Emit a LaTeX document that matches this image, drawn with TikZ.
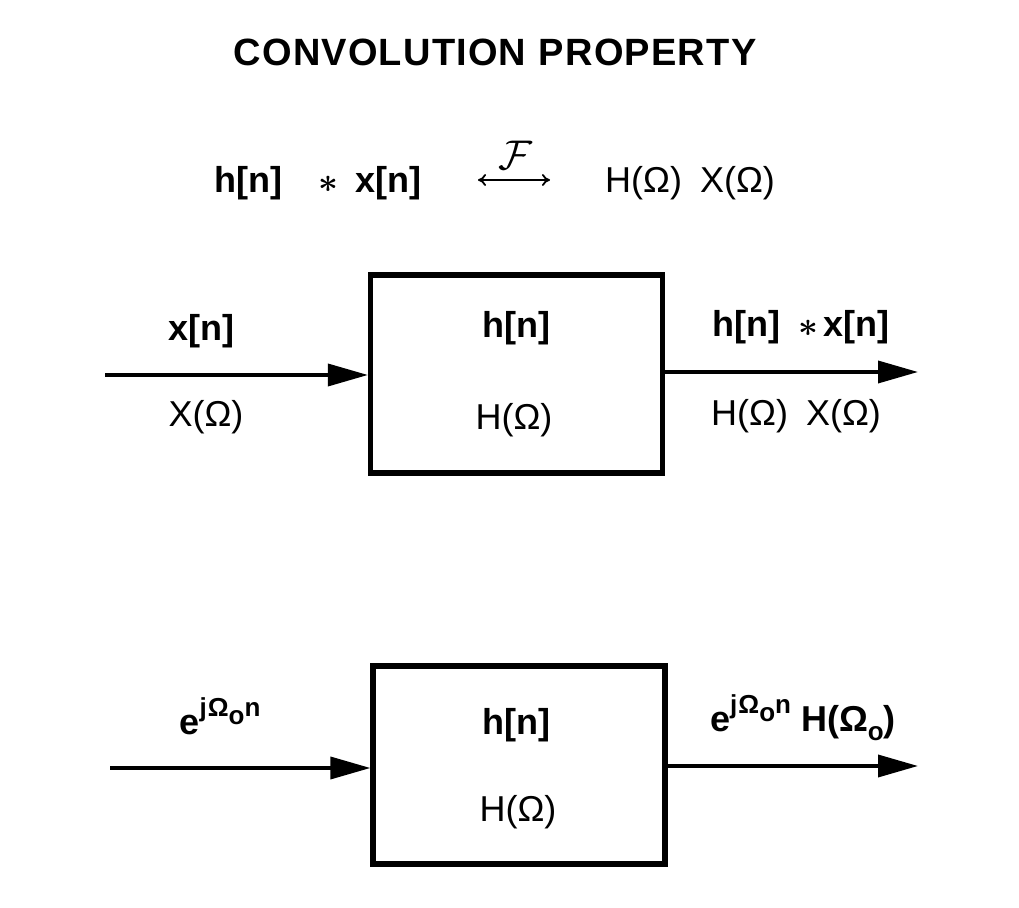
\documentclass[tikz,border=0pt]{standalone}
\usepackage{fontspec}
\setmainfont{Liberation Sans}
\usetikzlibrary{arrows.meta,positioning}

\tikzset{
  sysbox/.style={draw, line width=2.6pt, minimum width=146pt, minimum height=99pt, inner sep=0pt},
  sig/.style={-{Triangle[length=20pt,width=11pt]}, line width=1.8pt},
  lbl/.style={inner sep=0pt},
  bl/.style={lbl, font=\fontsize{18}{21}\selectfont\bfseries},
}
\newcommand{\expo}{e\raisebox{0.5em}{\fontsize{13}{15}\selectfont j\kern0.5pt Ω\raisebox{-0.3em}{o}n}}
\newcommand{\conv}{{\boldmath$\ast$}}

\begin{document}
\begin{tikzpicture}[x=0.5pt, y=-0.5pt, line join=miter, font=\fontsize{18}{21}\selectfont]
  \useasboundingbox (0,0) rectangle (1019,908);
  % title and transform pair
  \node[bl, font=\fontsize{19}{22}\selectfont\bfseries] (title) at (495,52) {C\kern0.6pt O\kern0.6pt N\kern0.6pt V\kern0.6pt O\kern0.6pt L\kern0.6pt U\kern0.6pt T\kern0.6pt I\kern0.6pt O\kern0.6pt N \kern1pt P\kern0.6pt R\kern0.6pt O\kern0.6pt P\kern0.6pt E\kern0.6pt R\kern0.6pt T\kern0.6pt Y};
  \node[bl] (conv) at (318,183) {h[n]\quad\conv\enspace x[n]};
  \coordinate (fl) at (478,180);
  \coordinate (fr) at (550,180);
  \draw[{To[length=4pt,width=6pt]}-{To[length=4pt,width=6pt]}, line width=0.9pt] (fl) -- (fr);
  \node[lbl, font=\fontsize{20}{22}\selectfont] (four) at (515,155) {$\mathcal{F}$};
  \node[lbl] (prod) at (690,183) {H(Ω)\enspace X(Ω)};

  % first system
  \node[sysbox] (box1) at (516.5,374) {};
  \node[bl] (h1) at (516,328) {h[n]};
  \node[lbl] (H1) at (514,420) {H(Ω)};
  \coordinate (in1) at (105,375);
  \coordinate (out1) at (918,372);
  \draw[sig] (in1) -- (in1 -| box1.west);
  \draw[sig] (out1 -| box1.east) -- (out1);
  \node[bl] (x1) at (201,331) {x[n]};
  \node[lbl] (X1) at (206,417) {X(Ω)};
  \node[bl] (y1) at (801,327) {h[n]\enspace\conv\,x[n]};
  \node[lbl] (Y1) at (796,416) {H(Ω)\enspace X(Ω)};

  % second system
  \node[sysbox] (box2) at (519,765) {};
  \node[bl] (h2) at (516,725) {h[n]};
  \node[lbl] (H2) at (518,812) {H(Ω)};
  \coordinate (in2) at (110,768);
  \coordinate (out2) at (918,766);
  \draw[sig] (in2) -- (in2 -| box2.west);
  \draw[sig] (out2 -| box2.east) -- (out2);
  \node[bl] (x2) at (220,716) {\expo};
  \node[bl] (y2) at (803,718) {\expo\ H(Ω\raisebox{-0.25em}{\fontsize{13}{15}\selectfont o})};
\end{tikzpicture}
\end{document}
